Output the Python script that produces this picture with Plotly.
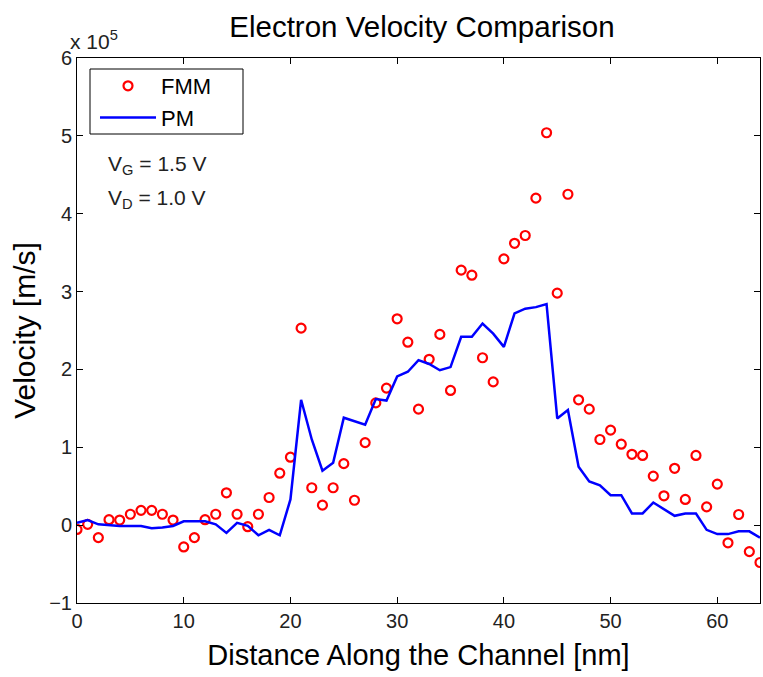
import plotly.graph_objects as go

# Distance along the channel [nm]
distance_nm = list(range(0, 65))

# FMM electron velocity [x 10^5 m/s]
fmm_velocity = [-0.055, 0.01, -0.16, 0.07, 0.065, 0.14, 0.19, 0.19, 0.14, 0.065,
                -0.28, -0.16, 0.07, 0.14, 0.415, 0.14, -0.02, 0.14, 0.355, 0.667,
                0.873, 2.53, 0.48, 0.257, 0.48, 0.79, 0.32, 1.06, 1.57, 1.76,
                2.65, 2.35, 1.49, 2.13, 2.45, 1.73, 3.275, 3.21, 2.15, 1.84,
                3.42, 3.62, 3.72, 4.2, 5.04, 2.98, 4.25, 1.61, 1.49, 1.10,
                1.22, 1.04, 0.91, 0.895, 0.63, 0.377, 0.73, 0.33, 0.895, 0.235,
                0.527, -0.227, 0.137, -0.34, -0.48]

# PM electron velocity [x 10^5 m/s]
pm_velocity = [0.03, 0.065, 0.01, 0.0, -0.01, -0.01, -0.01, -0.04, -0.03, -0.01,
               0.05, 0.05, 0.05, 0.01, -0.1, 0.03, -0.01, -0.13, -0.06, -0.13,
               0.33, 1.61, 1.1, 0.70, 0.80, 1.38, 1.33, 1.29, 1.62, 1.6,
               1.91, 1.97, 2.12, 2.07, 1.99, 2.03, 2.42, 2.42, 2.59, 2.46,
               2.29, 2.72, 2.78, 2.80, 2.84, 1.37, 1.48, 0.75, 0.56, 0.51,
               0.385, 0.385, 0.15, 0.15, 0.29, 0.2, 0.12, 0.15, 0.15, -0.06,
               -0.115, -0.115, -0.08, -0.08, -0.16]

x_ticks = [0, 10, 20, 30, 40, 50, 60]
y_ticks = [-1, 0, 1, 2, 3, 4, 5, 6]

FONT = "Liberation Sans, Arial, sans-serif"

fig = go.Figure()
fig.add_trace(go.Scatter(
    x=distance_nm, y=fmm_velocity, mode="markers", name="FMM",
    marker=dict(symbol="circle-open", color="#FF0000", size=9,
                line=dict(width=2.2, color="#FF0000")),
))
fig.add_trace(go.Scatter(
    x=distance_nm, y=pm_velocity, mode="lines", name="PM",
    line=dict(color="#0000FF", width=2.5),
))

axis_common = dict(
    showline=True, linecolor="black", linewidth=1, mirror="ticks",
    ticks="inside", ticklen=6, tickcolor="black", showgrid=False,
    zeroline=False, tickfont=dict(family=FONT, size=20, color="#222222"),
)

fig.update_layout(
    width=763, height=677,
    margin=dict(l=77, r=3, t=58, b=74, autoexpand=False),
    paper_bgcolor="white", plot_bgcolor="white",
    title=dict(text="Electron Velocity Comparison", x=0.553, xanchor="center",
               y=1 - 27 / 677, yanchor="middle", yref="container",
               font=dict(family=FONT, size=29.5, color="black")),
    xaxis=dict(range=[0, 64], tickvals=x_ticks, **axis_common,
               title=dict(text="Distance Along the Channel [nm]", standoff=13,
                          font=dict(family=FONT, size=29, color="black"))),
    yaxis=dict(range=[-1, 6], tickvals=y_ticks, **axis_common,
               title=dict(text="Velocity [m/s]", standoff=4,
                          font=dict(family=FONT, size=30, color="black"))),
    showlegend=True,
    legend=dict(x=(95 - 77) / 683, y=(603 - 65) / 545, xanchor="left", yanchor="top",
                bgcolor="rgba(0,0,0,0)", borderwidth=0,
                font=dict(family=FONT, size=22, color="black"),
                tracegroupgap=0, itemwidth=56),
    shapes=[
        dict(type="rect", xref="paper", yref="paper",
             x0=(90 - 77) / 683, x1=(243 - 77) / 683,
             y0=(603 - 134) / 545, y1=(603 - 69) / 545,
             line=dict(color="black", width=1), fillcolor="white", layer="above"),
    ],
    annotations=[
        dict(text="x 10<sup>5</sup>", xref="paper", yref="paper", x=-0.013, y=1.005,
             xanchor="left", yanchor="bottom", showarrow=False,
             font=dict(family=FONT, size=21, color="#222222")),
        dict(text="V<sub>G</sub> = 1.5 V", xref="paper", yref="paper", x=(106 - 77) / 683,
             y=(603 - 165) / 545, xanchor="left", yanchor="middle", showarrow=False,
             font=dict(family=FONT, size=21, color="#222222")),
        dict(text="V<sub>D</sub> = 1.0 V", xref="paper", yref="paper", x=(106 - 77) / 683,
             y=(603 - 199) / 545, xanchor="left", yanchor="middle", showarrow=False,
             font=dict(family=FONT, size=21, color="#222222")),
    ],
)

fig.write_html("out.html", config={"displayModeBar": False},
               post_script="document.body.style.margin='0px';")
